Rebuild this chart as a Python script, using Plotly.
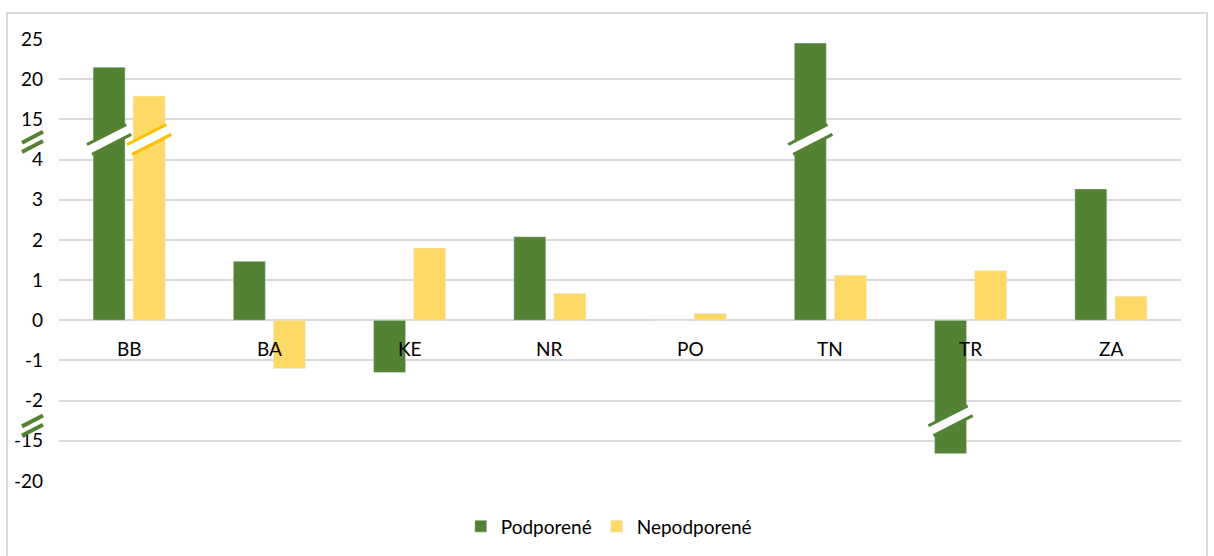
import plotly.graph_objects as go

kraje = ["BB", "BA", "KE", "NR", "PO", "TN", "TR", "ZA"]
podporene = [21.5, 1.47, -1.3, 2.08, 0.0, 24.5, -16.6, 3.27]
nepodporene = [17.9, -1.2, 1.8, 0.67, 0.17, 1.12, 1.24, 0.6]
tick_labels = [25, 20, 15, 4, 3, 2, 1, 0, -1, -2, -15, -20]

GREEN = "#548235"
YELLOW = "#FFD966"
YELLOW_EDGE = "#FFC000"
GRID = "#D9D9D9"
FONT = "Lato, 'Open Sans', sans-serif"


# prerusena os: 15..25 a -15..-20 su stlacene (5 jednotiek = 1 dielik)
def tr(v):
    if v > 4:
        return 5 + (v - 15) / 5
    if v < -2:
        return -3 + (v + 15) / 5
    return v


fig = go.Figure()
fig.add_trace(go.Bar(
    name="Podporené", x=kraje, y=[tr(v) for v in podporene],
    customdata=podporene, marker_color=GREEN,
    hovertemplate="%{x}: %{customdata}<extra>Podporené</extra>",
))
fig.add_trace(go.Bar(
    name="Nepodporené", x=kraje, y=[tr(v) for v in nepodporene],
    customdata=nepodporene, marker_color=YELLOW,
    hovertemplate="%{x}: %{customdata}<extra>Nepodporené</extra>",
))

shapes = []

# znacky prerusenia na stlpcoch
for series, off, edge in [(podporene, -1 / 7, GREEN), (nepodporene, 1 / 7, YELLOW_EDGE)]:
    for i, v in enumerate(series):
        if v > 4:
            c = 4.5
        elif v < -2:
            c = -2.5
        else:
            continue
        x0, x1 = i + off - 0.14, i + off + 0.14
        shapes.append(dict(type="line", xref="x", yref="y", x0=x0, x1=x1,
                           y0=c - 0.25, y1=c + 0.25, line=dict(color=edge, width=14)))
        shapes.append(dict(type="line", xref="x", yref="y", x0=x0 - 0.02, x1=x1 + 0.02,
                           y0=c - 0.285, y1=c + 0.285, line=dict(color="white", width=8)))

# znacky prerusenia na osi y
for c in (4.44, -2.62):
    for d in (0.115, -0.115):
        shapes.append(dict(type="line", xref="paper", yref="y",
                           x0=(22 - 59) / 1122, x1=(43 - 59) / 1122,
                           y0=c + d - 0.135, y1=c + d + 0.135,
                           line=dict(color=GREEN, width=4)))

# ramcek grafu
shapes.append(dict(type="rect", xref="paper", yref="paper",
                   x0=(7 - 59) / 1122, x1=(1207 - 59) / 1122,
                   y0=-0.5, y1=(482 - 13) / 443,
                   line=dict(color=GRID, width=2), fillcolor="rgba(0,0,0,0)", layer="below"))

annotations = [dict(x=k, y=-0.7, xref="x", yref="y", text=k, showarrow=False,
                    font=dict(size=19, color="#000000", family=FONT)) for k in kraje]

fig.update_layout(
    width=1214, height=556,
    margin=dict(l=59, r=33, t=39, b=74),
    paper_bgcolor="white", plot_bgcolor="white",
    barmode="group", bargap=0.4286, bargroupgap=0.2,
    font=dict(family=FONT, size=19, color="#000000"),
    xaxis=dict(type="category", range=[-0.5, 7.5], showticklabels=False,
               showgrid=False, zeroline=False, showline=False),
    yaxis=dict(range=[-4, 7], tickvals=[tr(v) for v in tick_labels],
               ticktext=[str(v) for v in tick_labels],
               showgrid=True, gridcolor=GRID, gridwidth=1.5,
               zeroline=True, zerolinecolor=GRID, zerolinewidth=1.5,
               showline=False, ticks="", ticklabelstandoff=15,
               tickfont=dict(size=19)),
    legend=dict(orientation="h", x=0.49, xanchor="center", y=-0.1, yanchor="middle",
                font=dict(size=19), itemwidth=30),
    shapes=shapes,
    annotations=annotations,
)

fig.write_html("out.html", config={"displayModeBar": False},
               post_script="document.body.style.margin='0';")
